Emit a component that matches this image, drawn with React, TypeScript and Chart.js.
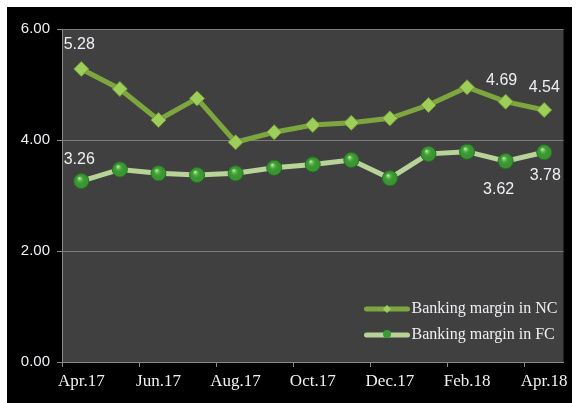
import React, { useEffect, useRef } from "react";
import { Chart, registerables } from "chart.js";

Chart.register(...registerables);

const categories = ["Apr.17", "May.17", "Jun.17", "Jul.17", "Aug.17", "Sep.17", "Oct.17", "Nov.17", "Dec.17", "Jan.18", "Feb.18", "Mar.18", "Apr.18"];
const ncValues = [5.28, 4.92, 4.36, 4.75, 3.96, 4.14, 4.27, 4.31, 4.39, 4.63, 4.95, 4.69, 4.54];
const fcValues = [3.26, 3.47, 3.40, 3.37, 3.40, 3.50, 3.56, 3.64, 3.31, 3.75, 3.79, 3.62, 3.78];
const seriesNames = ["Banking margin in NC", "Banking margin in FC"];
const yTicks = [0, 2, 4, 6];
const labeledIdx = [0, 11, 12];

const NC_LINE = "#7ea63e";
const NC_POINT = "#9fcd5a";
const FC_LINE = "#b7d398";
const FC_POINT = "#3a9a33";
const AXIS = "#8a8a8a";
const TEXT = "#eef0f4";

export default function App() {
  const ref = useRef<HTMLCanvasElement | null>(null);
  useEffect(() => {
    if (!ref.current) return;
    const bgPlugin = {
      id: "bg",
      beforeDraw(chart: any) {
        const { ctx, chartArea } = chart;
        ctx.save();
        ctx.fillStyle = "#000000";
        ctx.fillRect(0, 0, chart.width, chart.height);
        ctx.fillStyle = "#404040";
        ctx.fillRect(chartArea.left, chartArea.top, chartArea.right - chartArea.left, chartArea.bottom - chartArea.top);
        ctx.restore();
      },
    };
    const labelPlugin = {
      id: "labels",
      afterDatasetsDraw(chart: any) {
        const { ctx, chartArea } = chart;
        ctx.save();
        // point shine
        const fcMeta = chart.getDatasetMeta(1);
        fcMeta.data.forEach((p: any) => {
          const g = ctx.createRadialGradient(p.x - 2, p.y - 3, 0.5, p.x, p.y, 7);
          g.addColorStop(0, "rgba(190,240,170,0.9)");
          g.addColorStop(0.4, "rgba(80,170,60,0.5)");
          g.addColorStop(1, "rgba(30,100,30,0)");
          ctx.fillStyle = g;
          ctx.beginPath();
          ctx.arc(p.x, p.y, 7, 0, Math.PI * 2);
          ctx.fill();
        });
        ctx.font = "16px 'Liberation Sans', sans-serif";
        ctx.fillStyle = TEXT;
        ctx.textAlign = "center";
        ctx.textBaseline = "middle";
        const ncOff = [[-2, -24], [-4, -21], [0, -22]];
        const fcOff = [[-2, -21], [-7, 29], [1, 23]];
        const ncMeta = chart.getDatasetMeta(0);
        labeledIdx.forEach((idx, k) => {
          const p = ncMeta.data[idx];
          ctx.fillText(ncValues[idx].toFixed(2), p.x + ncOff[k][0], p.y + ncOff[k][1]);
          const q = fcMeta.data[idx];
          ctx.fillText(fcValues[idx].toFixed(2), q.x + fcOff[k][0], q.y + fcOff[k][1]);
        });
        // legend
        const rows = [
          { name: seriesNames[0], line: NC_LINE, mark: "diamond" },
          { name: seriesNames[1], line: FC_LINE, mark: "circle" },
        ];
        ctx.font = "16px 'Liberation Serif', serif";
        ctx.textAlign = "left";
        rows.forEach((r, i) => {
          const y = chartArea.bottom - 53 + i * 26;
          const x0 = chartArea.right - 199;
          const x1 = chartArea.right - 154;
          ctx.strokeStyle = r.line;
          ctx.lineWidth = 5;
          ctx.lineCap = "round";
          ctx.beginPath();
          ctx.moveTo(x0 + 2, y);
          ctx.lineTo(x1 - 2, y);
          ctx.stroke();
          const cx = (x0 + x1) / 2;
          if (r.mark === "diamond") {
            ctx.fillStyle = NC_POINT;
            ctx.beginPath();
            ctx.moveTo(cx, y - 4);
            ctx.lineTo(cx + 4, y);
            ctx.lineTo(cx, y + 4);
            ctx.lineTo(cx - 4, y);
            ctx.closePath();
            ctx.fill();
          } else {
            ctx.fillStyle = FC_POINT;
            ctx.beginPath();
            ctx.arc(cx, y - 1, 4, 0, Math.PI * 2);
            ctx.fill();
          }
          ctx.fillStyle = TEXT;
          ctx.fillText(r.name, x1 + 2, y);
        });
        ctx.restore();
      },
    };
    const chart = new Chart(ref.current, {
      type: "line",
      data: {
        labels: categories,
        datasets: [
          {
            label: seriesNames[0],
            data: ncValues,
            borderColor: NC_LINE,
            borderWidth: 5,
            pointStyle: "rectRot",
            pointRadius: 7.5,
            pointBackgroundColor: NC_POINT,
            pointBorderColor: "#6f9a35",
            pointBorderWidth: 1,
            tension: 0,
          },
          {
            label: seriesNames[1],
            data: fcValues,
            borderColor: FC_LINE,
            borderWidth: 5,
            pointStyle: "circle",
            pointRadius: 7.5,
            pointBackgroundColor: FC_POINT,
            pointBorderColor: "#2a6e24",
            pointBorderWidth: 1,
            tension: 0,
          },
        ],
      },
      options: {
        animation: false,
        responsive: false,
        maintainAspectRatio: false,
        layout: { padding: { left: 0, top: 22, right: 6, bottom: 0 } },
        plugins: { legend: { display: false }, tooltip: { enabled: false } },
        scales: {
          x: {
            type: "category",
            offset: true,
            afterFit: (s: any) => { s.height = 41; },
            grid: {
              offset: true,
              drawOnChartArea: false,
              tickLength: 5,
              tickColor: (c: any) => (typeof c.index === "number" && c.index % 2 === 0 ? AXIS : "rgba(0,0,0,0)"),
            },
            border: { color: AXIS },
            ticks: {
              autoSkip: false,
              maxRotation: 0,
              padding: 4,
              color: TEXT,
              font: { family: "'Liberation Serif', serif", size: 17 },
              callback: (_v: any, i: number) => (i % 2 === 0 ? categories[i] : ""),
            },
          },
          y: {
            min: 0,
            max: 6,
            afterFit: (s: any) => { s.width = 55; },
            afterBuildTicks: (s: any) => { s.ticks = yTicks.map((v) => ({ value: v })); },
            grid: { color: "#7c7c7c", tickLength: 5, tickColor: AXIS },
            border: { color: AXIS },
            ticks: {
              padding: 7,
              color: TEXT,
              font: { family: "'Liberation Sans', sans-serif", size: 15 },
              callback: (v: any) => Number(v).toFixed(2),
            },
          },
        },
      },
      plugins: [bgPlugin, labelPlugin],
    });
    return () => chart.destroy();
  }, []);
  return (
    <div style={{ position: "fixed", left: 7, top: 7, width: 565, height: 396 }}>
      <canvas ref={ref} width={565} height={396} style={{ display: "block", width: 565, height: 396 }} />
    </div>
  );
}
